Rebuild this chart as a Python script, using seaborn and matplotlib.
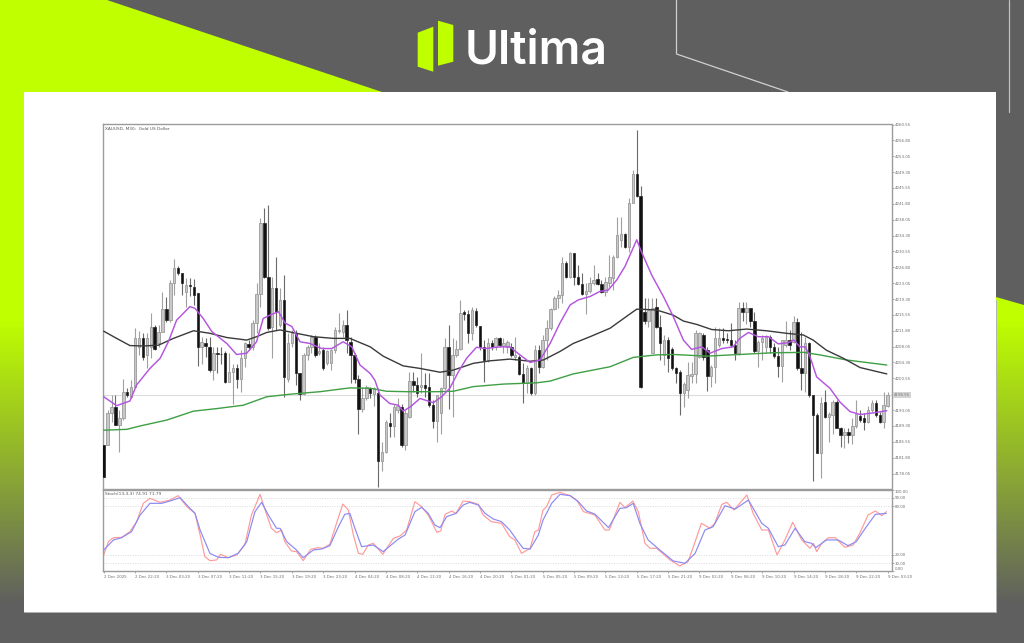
import numpy as np
import matplotlib
matplotlib.use("Agg")
import matplotlib.pyplot as plt
from matplotlib.patches import Polygon, Rectangle
import seaborn as sns

# candles, one per 30 minutes
opens = [
    4184.8, 4184.8, 4192.3, 4193.8, 4189.5, 4191.1, 4197.4, 4196.2, 4198.6, 4208.0,
    4210.0, 4206.1, 4208.0, 4212.8, 4208.8, 4211.6, 4216.9, 4214.3, 4223.0, 4226.6,
    4225.5, 4221.0, 4222.6, 4222.2, 4220.7, 4207.9, 4209.0, 4208.0, 4202.5, 4206.5,
    4206.3, 4206.5, 4199.8, 4202.1, 4202.9, 4200.5, 4205.3, 4208.7, 4208.0, 4213.6,
    4220.5, 4237.2, 4224.6, 4212.8, 4221.8, 4213.2, 4219.1, 4200.5, 4208.8, 4211.2,
    4201.7, 4196.8, 4206.1, 4208.0, 4210.4, 4206.5, 4207.2, 4204.1, 4204.1, 4207.2,
    4211.8, 4211.6, 4213.2, 4209.2, 4206.1, 4200.5, 4193.2, 4195.8, 4198.2, 4196.8,
    4197.0, 4181.1, 4183.2, 4190.1, 4189.3, 4193.0, 4193.8, 4184.8, 4191.5, 4199.9,
    4199.0, 4198.6, 4199.0, 4198.6, 4194.2, 4190.5, 4192.3, 4198.2, 4208.0, 4201.3,
    4206.1, 4207.6, 4216.3, 4215.8, 4211.2, 4216.5, 4212.9, 4208.0, 4204.9, 4209.0,
    4208.0, 4210.0, 4208.2, 4208.0, 4207.9, 4205.5, 4205.5, 4201.6, 4199.4, 4202.9,
    4197.0, 4207.2, 4203.3, 4209.6, 4212.4, 4216.9, 4219.5, 4220.3, 4227.8, 4224.4,
    4230.1, 4224.4, 4222.9, 4220.5, 4221.1, 4223.0, 4224.0, 4222.9, 4221.0, 4223.0,
    4224.2, 4229.2, 4233.3, 4234.7, 4231.5, 4242.1, 4248.9, 4243.7, 4216.3, 4214.1,
    4206.5, 4217.5, 4212.6, 4206.1, 4209.5, 4207.6, 4202.9, 4202.1, 4197.0, 4197.9,
    4201.1, 4201.5, 4205.7, 4210.8, 4207.2, 4201.1, 4203.3, 4208.4, 4210.0, 4209.9,
    4209.5, 4208.4, 4206.5, 4217.1, 4216.3, 4217.1, 4214.0, 4206.9, 4209.2, 4208.0,
    4210.4, 4208.0, 4205.8, 4203.5, 4208.4, 4209.5, 4209.2, 4213.9, 4202.9, 4201.7,
    4209.0, 4196.6, 4191.9, 4183.0, 4195.0, 4191.5, 4191.9, 4195.0, 4188.9, 4187.1,
    4187.9, 4187.1, 4189.3, 4191.6, 4191.1, 4190.3, 4193.0, 4194.8, 4191.9, 4190.3, 4194.1,
]
closes = [
    4177.3, 4192.3, 4193.8, 4189.5, 4191.1, 4197.4, 4196.6, 4198.6, 4210.0, 4210.0,
    4205.7, 4210.0, 4212.8, 4207.6, 4211.6, 4216.9, 4214.3, 4223.2, 4226.6, 4225.5,
    4223.2, 4222.6, 4222.4, 4220.3, 4207.9, 4209.2, 4208.2, 4202.5, 4206.5, 4206.3,
    4206.2, 4199.8, 4202.1, 4203.0, 4200.5, 4205.3, 4208.8, 4208.0, 4213.6, 4220.5,
    4237.2, 4224.6, 4212.4, 4221.8, 4216.3, 4219.1, 4200.8, 4208.8, 4211.2, 4201.7,
    4196.8, 4206.1, 4208.0, 4210.4, 4206.1, 4206.9, 4202.9, 4206.9, 4207.2, 4212.0,
    4212.0, 4213.2, 4209.6, 4206.1, 4200.5, 4193.2, 4195.8, 4198.6, 4197.0, 4198.2,
    4181.1, 4183.2, 4190.3, 4189.3, 4193.8, 4194.1, 4184.8, 4192.3, 4199.9, 4199.0,
    4197.2, 4199.0, 4198.2, 4194.2, 4190.5, 4196.6, 4198.3, 4208.0, 4201.3, 4206.1,
    4207.6, 4216.1, 4215.8, 4211.2, 4216.7, 4213.2, 4208.0, 4204.9, 4209.0, 4207.9,
    4210.0, 4208.4, 4208.8, 4209.2, 4206.1, 4206.1, 4201.6, 4199.4, 4202.9, 4197.0,
    4207.2, 4203.3, 4209.6, 4212.4, 4216.9, 4219.5, 4220.3, 4227.8, 4224.4, 4230.1,
    4224.4, 4222.9, 4220.5, 4221.3, 4223.2, 4223.8, 4222.9, 4221.0, 4223.4, 4224.4,
    4229.2, 4234.5, 4234.7, 4231.5, 4242.1, 4248.9, 4243.7, 4198.6, 4214.1, 4216.7,
    4217.1, 4212.6, 4208.8, 4209.6, 4205.3, 4202.9, 4201.7, 4197.0, 4199.1, 4201.3,
    4201.5, 4211.2, 4211.2, 4205.7, 4201.1, 4203.3, 4210.0, 4210.0, 4209.6, 4209.5,
    4208.4, 4206.5, 4217.1, 4216.3, 4217.1, 4214.0, 4206.9, 4209.2, 4210.0, 4210.4,
    4208.0, 4205.8, 4203.5, 4209.6, 4209.6, 4208.4, 4213.9, 4202.9, 4201.7, 4209.0,
    4196.6, 4191.9, 4183.0, 4194.8, 4191.5, 4192.1, 4195.0, 4188.9, 4187.1, 4187.9,
    4187.1, 4189.3, 4192.1, 4190.7, 4190.3, 4193.0, 4194.8, 4191.9, 4190.3, 4194.2, 4196.6,
]
highs = [
    4184.8, 4193.1, 4196.6, 4196.6, 4193.1, 4200.5, 4198.2, 4200.1, 4212.4, 4211.8,
    4211.2, 4211.2, 4216.1, 4213.2, 4213.2, 4221.0, 4219.8, 4223.8, 4228.7, 4227.0,
    4225.5, 4224.2, 4224.2, 4224.0, 4220.7, 4210.4, 4210.0, 4210.4, 4208.0, 4208.0,
    4208.0, 4206.9, 4206.5, 4204.0, 4204.0, 4207.2, 4209.2, 4209.6, 4214.3, 4223.0,
    4238.4, 4240.8, 4241.5, 4224.6, 4229.3, 4221.8, 4225.0, 4211.2, 4212.0, 4212.0,
    4201.7, 4206.5, 4208.4, 4210.8, 4210.8, 4208.8, 4208.0, 4207.2, 4207.6, 4212.8,
    4215.9, 4214.3, 4216.7, 4210.4, 4206.5, 4201.3, 4198.6, 4199.0, 4198.6, 4198.6,
    4198.2, 4185.6, 4190.7, 4192.3, 4194.6, 4196.0, 4194.6, 4193.1, 4202.1, 4202.1,
    4200.9, 4206.5, 4201.7, 4201.7, 4195.4, 4196.6, 4198.6, 4210.0, 4213.2, 4210.0,
    4209.6, 4219.1, 4216.7, 4216.7, 4217.5, 4217.1, 4212.9, 4209.6, 4210.0, 4209.6,
    4210.4, 4210.4, 4210.0, 4209.6, 4208.8, 4210.4, 4206.1, 4204.1, 4203.7, 4203.3,
    4208.4, 4208.4, 4210.8, 4214.3, 4217.1, 4219.9, 4221.4, 4229.3, 4228.2, 4230.5,
    4230.1, 4227.4, 4225.4, 4223.0, 4224.6, 4227.4, 4225.4, 4223.8, 4224.6, 4229.7,
    4229.7, 4238.8, 4238.8, 4234.9, 4243.1, 4249.8, 4259.3, 4245.9, 4219.5, 4219.5,
    4219.5, 4219.5, 4215.5, 4210.8, 4210.4, 4208.0, 4203.3, 4202.5, 4199.8, 4204.5,
    4204.5, 4212.0, 4211.6, 4211.2, 4208.0, 4203.7, 4212.8, 4212.4, 4212.4, 4211.2,
    4213.6, 4209.6, 4218.7, 4218.7, 4218.7, 4217.1, 4216.3, 4209.6, 4210.8, 4210.8,
    4210.8, 4208.8, 4208.0, 4209.6, 4214.1, 4212.0, 4215.3, 4214.7, 4211.6, 4210.4,
    4209.2, 4196.6, 4192.3, 4196.2, 4197.8, 4192.7, 4195.4, 4195.4, 4189.1, 4188.7,
    4188.7, 4191.1, 4195.4, 4193.0, 4192.3, 4194.0, 4195.4, 4195.4, 4192.7, 4197.4, 4197.4,
]
lows = [
    4177.3, 4184.8, 4190.3, 4189.5, 4183.2, 4190.7, 4196.2, 4195.8, 4198.6, 4206.1,
    4205.0, 4202.9, 4205.3, 4207.3, 4208.0, 4211.6, 4213.9, 4213.9, 4220.3, 4225.0,
    4220.3, 4217.5, 4219.9, 4217.9, 4203.4, 4204.0, 4205.7, 4202.1, 4200.1, 4201.7,
    4204.0, 4199.4, 4199.8, 4194.6, 4198.2, 4197.4, 4203.3, 4207.2, 4207.2, 4211.2,
    4217.5, 4224.2, 4212.0, 4205.3, 4212.0, 4212.8, 4196.2, 4199.8, 4208.0, 4198.9,
    4195.4, 4196.6, 4204.9, 4206.5, 4205.7, 4206.1, 4202.5, 4203.7, 4202.5, 4206.5,
    4211.2, 4210.4, 4206.5, 4199.4, 4199.4, 4187.5, 4192.7, 4195.4, 4196.0, 4194.0,
    4174.9, 4178.7, 4182.8, 4186.7, 4186.7, 4192.3, 4184.4, 4183.6, 4191.1, 4197.4,
    4196.2, 4197.0, 4196.2, 4193.8, 4188.7, 4185.6, 4187.5, 4197.8, 4193.4, 4191.5,
    4205.7, 4207.2, 4214.3, 4208.8, 4209.6, 4212.8, 4207.2, 4199.8, 4204.5, 4207.2,
    4207.2, 4208.0, 4206.5, 4206.5, 4205.7, 4204.9, 4201.3, 4194.8, 4197.0, 4196.6,
    4196.6, 4201.7, 4202.9, 4204.9, 4212.0, 4216.7, 4217.1, 4218.3, 4224.2, 4224.2,
    4222.6, 4222.6, 4220.3, 4215.8, 4220.7, 4222.6, 4222.6, 4220.7, 4219.9, 4222.2,
    4221.4, 4228.9, 4231.7, 4231.3, 4230.5, 4242.0, 4243.4, 4198.3, 4213.5, 4212.8,
    4206.5, 4212.4, 4204.9, 4203.7, 4202.1, 4202.5, 4199.4, 4191.9, 4193.8, 4195.8,
    4199.4, 4199.4, 4205.3, 4204.9, 4197.6, 4198.6, 4199.4, 4208.0, 4208.8, 4208.8,
    4208.0, 4204.9, 4206.1, 4214.0, 4213.5, 4212.8, 4206.5, 4203.2, 4204.9, 4206.5,
    4206.5, 4205.3, 4200.9, 4199.8, 4208.0, 4207.2, 4208.8, 4202.5, 4197.8, 4197.4,
    4196.2, 4176.3, 4182.8, 4177.1, 4191.1, 4185.6, 4187.5, 4188.7, 4184.4, 4184.0,
    4185.2, 4185.0, 4188.7, 4190.3, 4188.3, 4189.9, 4192.7, 4191.5, 4189.9, 4188.7, 4193.8,
]

# moving averages, read at (bar, price)
fast_bar = [0, 3.3, 6.7, 8.4, 11.8, 14.4, 16.5, 18.6, 22, 23.3, 25.4, 27.6, 31.4, 33.9, 36.5, 39, 40.7,
            42.4, 44.6, 46.3, 48, 50.1, 52.6, 55.6, 58.2, 61.1, 63.3, 65.4, 68, 69.2, 70.5, 73, 75.2,
            76.4, 78.2, 80.7, 84.1, 86.2, 88.3, 90.5, 92.6, 95.1, 97.3, 101.1, 103.6, 106.2, 108.8,
            111.3, 113.9, 116.4, 119, 121.1, 124.1, 126.6, 128.7, 130.9, 133, 136, 137, 139.8, 142.8,
            145.3, 147.9, 150, 152.6, 154.7, 157.7, 160.6, 162.3, 164.5, 167, 169.6, 172.1, 174.7,
            176.1, 177.6, 179, 180.2, 181.9, 185.3, 187.8, 190.4, 193, 196.4, 199.8]
fast_ma = [4196.2, 4194.1, 4195.2, 4199.0, 4202.9, 4205.3, 4209.2, 4214.3, 4217.5, 4217.1, 4214.7, 4211.6,
           4208.8, 4206.2, 4206.5, 4209.2, 4214.7, 4215.5, 4216.3, 4213.6, 4212.8, 4209.2, 4208.8, 4207.6,
           4207.6, 4209.2, 4208.0, 4203.7, 4201.7, 4200.1, 4196.6, 4194.6, 4194.2, 4192.8, 4193.8, 4195.8,
           4194.8, 4196.2, 4198.2, 4202.1, 4205.3, 4207.9, 4207.6, 4208.0, 4208.0, 4206.1, 4204.3, 4204.9,
           4208.8, 4213.6, 4217.9, 4219.1, 4219.9, 4221.1, 4221.4, 4223.8, 4227.0, 4233.3, 4230.9, 4225.0,
           4219.9, 4215.2, 4209.6, 4207.4, 4208.0, 4206.5, 4207.6, 4208.0, 4210.0, 4211.4, 4210.4, 4210.4,
           4208.7, 4209.0, 4209.6, 4208.0, 4208.0, 4205.7, 4200.9, 4198.2, 4195.0, 4192.7, 4192.0, 4192.4,
           4192.9]
mid_bar = [0, 3.3, 6.7, 10.1, 14, 17.8, 22.9, 27.1, 31.4, 36.5, 39, 41.6, 45, 49.2, 53.5, 58.6, 62.8, 68,
           71.3, 76.4, 80.7, 85.8, 89.2, 94.3, 98.6, 103.6, 108.8, 112.2, 116.4, 119.8, 124.1, 129.2,
           133.4, 136, 137, 141.1, 145.3, 147.9, 151.3, 155.1, 159.4, 164, 169.1, 174.2, 178.5, 181,
           184.4, 188.7, 193, 199.8]
mid_ma = [4211.7, 4210.0, 4208.3, 4208.2, 4208.4, 4210.0, 4211.8, 4211.2, 4210.2, 4209.6, 4210.4, 4211.4,
          4212.0, 4211.2, 4210.4, 4210.0, 4210.0, 4208.0, 4205.8, 4203.5, 4202.9, 4202.0, 4202.5, 4204.1,
          4204.7, 4205.1, 4204.6, 4204.9, 4206.9, 4208.8, 4210.4, 4212.4, 4215.2, 4216.9, 4216.9, 4216.7,
          4215.5, 4214.1, 4213.3, 4212.1, 4211.8, 4212.2, 4211.8, 4211.2, 4210.8, 4209.6, 4207.2, 4205.3,
          4203.1, 4201.6]
slow_bar = [0, 5.9, 9.3, 16.1, 22.9, 28.8, 35.6, 41.6, 47.5, 55.2, 62.8, 68, 72.2, 77.3, 85, 89.2, 94.3,
            102, 110.5, 113.9, 119.8, 129.2, 135.1, 137, 141.1, 145.3, 153.8, 162.3, 170.8, 178.5, 182.7,
            189.5, 199.8]
slow_ma = [4188.3, 4188.5, 4189.3, 4190.7, 4192.8, 4193.4, 4194.2, 4196.2, 4196.8, 4197.4, 4198.3, 4198.2,
           4197.5, 4197.4, 4197.4, 4197.5, 4198.6, 4199.2, 4199.5, 4199.9, 4201.6, 4203.3, 4205.5, 4205.7,
           4206.1, 4206.2, 4205.8, 4206.2, 4206.6, 4206.7, 4206.1, 4204.9, 4203.7]

# stochastic, read at (bar, value)
stoch_red_bar = [0, 1.2, 2.5, 4.6, 6.7, 8.4, 10.1, 11.8, 14.4, 16.9, 19, 21.2, 23.3, 24.6, 25.8, 27.1, 28.8,
                 29.8, 31.8, 33.9, 36, 37.7, 39.9, 41.6, 42.8, 44.1, 45.4, 46.2, 47.9, 49.2, 50.9, 52.8,
                 54.7, 56, 57.7, 59.4, 61, 62.4, 63.7, 65, 66.1, 67.5, 68.8, 71.2, 73.9, 75.6, 77.3, 79.4,
                 81.1, 82.8, 85, 86, 87.1, 88.8, 89.9, 91.7, 93.4, 95.6, 96.8, 98.9, 101.5, 103.6, 104.9,
                 106.6, 108.8, 110, 110.9, 112.1, 113, 114.3, 116.4, 119, 120.7, 122.4, 125.3, 127.9, 129,
                 131.7, 133, 135, 136.4, 138.1, 139.4, 141.1, 144.5, 147, 149.1, 150.9, 152.5, 154.7,
                 155.9, 157.7, 159, 160.8, 164.1, 165.7, 167.9, 169.6, 171.8, 173.8, 175.8, 178.1, 180.2,
                 181.1, 181.9, 183.2, 184.9, 186.6, 189.1, 191.2, 192.9, 195, 196.9, 198.5, 199.7]
stoch_red = [20, 36.3, 41.2, 41.6, 48.6, 60.8, 83.3, 89.4, 84.5, 87.3, 92.7, 79.2, 71, 44.5, 18, 13.1, 13.9,
             20.8, 16.7, 20, 32.2, 69, 94.3, 69, 52.7, 47.3, 50.6, 36.3, 24.9, 24.1, 13.1, 26.9,
             29, 28.2, 33.1, 58.8, 82.4, 75.1, 44.5, 22, 20.8, 32.2, 34.3, 20.8, 40.4, 43.3, 50.6, 85.3,
             79.2, 69, 47.8, 49.4, 69.8, 73.9, 71, 86.1, 85.3, 82, 69, 60.8, 58.8, 42.4, 38.4,
             22, 28.2, 48.6, 50.6, 75.1, 79.2, 93.5, 96.7, 92.7, 87.3, 73.1, 69, 50.6, 50.6,
             84.5, 78, 86.1, 73.1, 34.3, 28.2, 28.2, 13.9, 6.5, 11.8, 36.3, 58.8, 52.7,
             58.8, 82, 84.5, 75.1, 93.5, 71, 50.6, 50.6, 20, 38.4, 60, 38.4, 28.2,
             34.3, 24.1, 34.3, 41.2, 41.2, 29.4, 32.2, 46.5, 69, 73.9, 68.2, 73.1]
stoch_blue_bar = [0, 2.5, 4.6, 7.1, 9.3, 11.8, 14.8, 16.9, 19.5, 21.6, 23.3, 24.6, 27.1, 29.3, 31.8, 34.3,
                  36.5, 38.6, 40.3, 42, 44.1, 45, 46.7, 49.2, 50.9, 53.5, 55.6, 57.7, 59.9, 61.5, 62.8, 64.1,
                  65.8, 68.8, 71.3, 75.2, 76.9, 79.4, 81.1, 82.8, 84.5, 85.8, 87.5, 89.9, 91.7, 93.4, 95.6,
                  97.3, 99.4, 101.5, 103.6, 105.4, 107, 108.8, 110.9, 112.1, 114.3, 116.4, 119, 121.1, 123.2,
                  125.3, 128.8, 131.7, 133.4, 135.1, 136.8, 138.9, 141.9, 145.3, 148.3, 150.9, 153.4, 155.5,
                  158.5, 161.1, 164.5, 167.9, 169.6, 172.1, 173.8, 176.4, 178.9, 180.6, 181.7, 184.4, 187.4,
                  189.9, 192, 194.6, 196.9, 199.7]
stoch_blue = [26.1, 38.4, 41.2, 48.6, 69, 83.3, 83.3, 86.1, 90.2, 79.2, 71, 50.6, 22, 17.1, 16.7, 22,
              36.3, 73.1, 84.5, 69, 52.7, 52.7, 36.3, 26.1, 16.7, 26.1, 27.3, 31.4, 54.7, 69.8, 71, 52.7,
              30.2, 32.2, 24.1, 39.6, 44.5, 73.1, 78.4, 71, 56.7, 53.5, 66.9, 71, 81.2, 84.5, 81.2,
              71, 64.1, 60.8, 50.6, 38.4, 28.2, 27.3, 44.5, 62.9, 83.3, 94.3, 92.7, 85.3, 73.9,
              70.2, 53.5, 77.1, 78, 83.3, 58.8, 38.4, 26.1, 12.7, 9.8, 22, 50.6, 54.7,
              80.4, 76.3, 87.3, 58.8, 52.7, 30.2, 32.2, 52.7, 36.3, 34.3, 29, 38.4, 38.4,
              31.4, 36.3, 54.7, 69.8, 71]

price_ticks = [4260.55, 4256.80, 4253.05, 4249.30, 4245.55, 4241.80, 4238.05, 4234.30, 4230.55, 4226.80,
               4223.05, 4219.30, 4215.55, 4211.80, 4208.05, 4204.30, 4200.55, 4193.05, 4189.30, 4185.55,
               4181.80, 4178.05]
stoch_ticks = [100, 90, 80, 20, 10, 0]
stoch_levels = [90, 80, 20, 10]
time_labels = ["2 Dec 2025", "2 Dec 22:20", "3 Dec 03:20", "3 Dec 07:20", "3 Dec 11:20", "3 Dec 15:20",
               "3 Dec 19:20", "3 Dec 23:20", "4 Dec 04:20", "4 Dec 08:20", "4 Dec 12:20", "4 Dec 16:20",
               "4 Dec 20:20", "5 Dec 01:20", "5 Dec 05:20", "5 Dec 09:20", "5 Dec 13:20", "5 Dec 17:20",
               "5 Dec 21:20", "9 Dec 02:20", "9 Dec 06:20", "9 Dec 10:20", "9 Dec 14:20", "9 Dec 18:20",
               "9 Dec 22:20", "9 Dec 03:20"]
last_price = 4196.55

LIME = "#bfff00"
GREY = "#5f5f5f"
W, H = 1024, 643

sns.set_theme(style="white")
plt.rcParams["font.family"] = ["DejaVu Sans"]

fig = plt.figure(figsize=(W / 100, H / 100), dpi=100)


def axes_px(x0, y0, x1, y1):
    return fig.add_axes([x0 / W, 1 - y1 / H, (x1 - x0) / W, (y1 - y0) / H])


# page background
bg = fig.add_axes([0, 0, 1, 1])
bg.set_xlim(0, W)
bg.set_ylim(H, 0)
bg.axis("off")
bg.add_patch(Rectangle((0, 0), W, H, color=GREY, lw=0))

# side bands fade from lime to grey
lime_rgb = np.array(matplotlib.colors.to_rgb(LIME))
grey_rgb = np.array(matplotlib.colors.to_rgb(GREY))
fade = np.clip((np.arange(H) - 320) / (603 - 320), 0, 1)[:, None, None]
grad = (lime_rgb * (1 - fade) + grey_rgb * fade)
bg.imshow(grad, extent=(0, 24, H, 0), aspect="auto", zorder=1)
bg.imshow(grad, extent=(996, W, H, 0), aspect="auto", zorder=1)
bg.set_xlim(0, W)
bg.set_ylim(H, 0)
bg.add_patch(Polygon([(996, 0), (W, 0), (W, 305), (996, 297)], color=GREY, lw=0, zorder=2))
bg.add_patch(Polygon([(0, 0), (107, 0), (382, 92), (24, 92), (24, 120), (0, 120)], color=LIME, lw=0, zorder=2))
bg.add_patch(Rectangle((24, 92), 972, 520, facecolor="white", edgecolor="none", lw=0, zorder=3))
bg.plot([24, 996, 996], [612, 612, 300], color="#b4b4b4", lw=0.7, zorder=3)
bg.plot([676.5, 676.5, 788], [0, 54, 92], color="#d0d0d0", lw=0.9, zorder=2)
bg.plot([1009, 1009], [0, 112], color="#c0c0c0", lw=0.9, zorder=2)
bg.plot([0, W], [642.6, 642.6], color="#b0b0b0", lw=0.6, zorder=2)

# logo
bg.add_patch(Polygon([(417.7, 32.7), (433.3, 26.7), (433.3, 71.7), (417.7, 66.7)], color=LIME, lw=0, zorder=4))
bg.add_patch(Polygon([(438, 20.7), (453.3, 25), (453.3, 61.7), (438, 65.7)], color=LIME, lw=0, zorder=4))
bg.text(464.5, 64, "Ultima", color="white", fontsize=33.3, fontweight="semibold", family="Inter",
        ha="left", va="baseline", zorder=4)

# price panel
ax = axes_px(103.3, 124.3, 891.5, 489)
ax.set_xlim(-0.1, 201)
ax.set_ylim(4174.4, 4260.6)
bars = np.arange(len(opens))
is_up = np.array(closes) >= np.array(opens)
ax.axhline(last_price, color="#dcdcdc", lw=0.8, zorder=1)
ax.vlines(bars[is_up], np.array(lows)[is_up], np.array(highs)[is_up], color="#a0a0a0", lw=0.8, zorder=2)
ax.vlines(bars[~is_up], np.array(lows)[~is_up], np.array(highs)[~is_up], color="#6a6a6a", lw=0.8, zorder=2)
body_low = np.minimum(opens, closes)
body_height = np.abs(np.array(closes) - np.array(opens))
ax.bar(bars[is_up], body_height[is_up], bottom=body_low[is_up], width=0.62,
       facecolor="#c8c8c8", edgecolor="#9a9a9a", lw=0.6, zorder=3)
ax.bar(bars[~is_up], body_height[~is_up], bottom=body_low[~is_up], width=0.62,
       facecolor="#111111", edgecolor="#222222", lw=0.5, zorder=3)
line_kw = dict(sort=False, estimator=None, solid_joinstyle="round")
sns.lineplot(x=slow_bar, y=slow_ma, ax=ax, color="#3f9f45", lw=1.0, zorder=4, **line_kw)
sns.lineplot(x=mid_bar, y=mid_ma, ax=ax, color="#3a3a3a", lw=1.0, zorder=5, **line_kw)
sns.lineplot(x=fast_bar, y=fast_ma, ax=ax, color="#b455e0", lw=1.05, zorder=6, **line_kw)
ax.yaxis.tick_right()
ax.set_yticks(price_ticks)
ax.set_yticklabels([f"{t:.2f}" for t in price_ticks])
ax.set_xticks([])
ax.text(0.002, 0.993, "XAUUSD, M30:  Gold US Dollar", transform=ax.transAxes, fontsize=3.1, color="#555555",
        ha="left", va="top")
ax.text(1.0025, last_price, f"{last_price:.2f}", transform=ax.get_yaxis_transform(), fontsize=2.9, color="#777777",
        ha="left", va="center", bbox=dict(facecolor="#d4d4d4", edgecolor="none", pad=0.6), clip_on=False)

# stochastic panel
ax2 = axes_px(103.3, 489.7, 891.5, 571.3)
ax2.set_xlim(-0.1, 201)
ax2.set_ylim(0, 100)
for lev in stoch_levels:
    ax2.axhline(lev, color="#cfcfcf", lw=0.5, ls=(0, (1.5, 2)), zorder=1)
sns.lineplot(x=stoch_red_bar, y=stoch_red, ax=ax2, color="#ff9a9a", lw=0.85, zorder=2, **line_kw)
sns.lineplot(x=stoch_blue_bar, y=stoch_blue, ax=ax2, color="#8a8af2", lw=0.85, zorder=3, **line_kw)
ax2.yaxis.tick_right()
ax2.set_yticks(stoch_ticks)
ax2.set_yticklabels([f"{t:.2f}" for t in stoch_ticks])
ax2.get_yticklabels()[0].set_va("top")
ax2.get_yticklabels()[-1].set_va("bottom")
ax2.set_xticks(np.arange(len(time_labels)) * 8)
ax2.set_xticklabels(time_labels, ha="left")
ax2.text(0.002, 0.97, "Stoch(13,3,3) 74.91 71.79", transform=ax2.transAxes, fontsize=3.1, color="#555555",
         ha="left", va="top")

for a in (ax, ax2):
    for s in a.spines.values():
        s.set_visible(True)
        s.set_color("#9c9c9c")
        s.set_linewidth(1.0)
    a.set_xlabel("")
    a.set_ylabel("")
    a.set_facecolor("white")
    a.tick_params(axis="both", length=1.6, width=0.5, color="#888888", pad=0.8, labelsize=2.9,
                  labelcolor="#6e6e6e", bottom=(a is ax2), right=True, left=False)

fig.savefig("out.png", dpi=100)
